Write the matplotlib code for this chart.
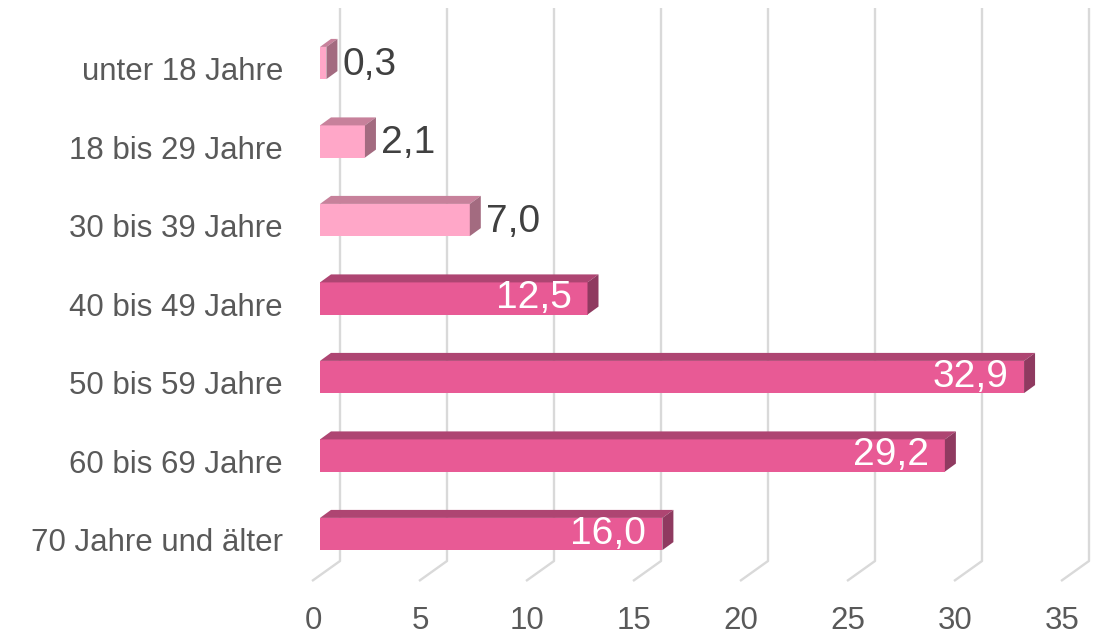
import matplotlib
matplotlib.use("Agg")
import matplotlib.pyplot as plt
from matplotlib.patches import Polygon

categories = ["unter 18 Jahre", "18 bis 29 Jahre", "30 bis 39 Jahre", "40 bis 49 Jahre",
              "50 bis 59 Jahre", "60 bis 69 Jahre", "70 Jahre und älter"]
values = [0.3, 2.1, 7.0, 12.5, 32.9, 29.2, 16.0]
value_labels = ["0,3", "2,1", "7,0", "12,5", "32,9", "29,2", "16,0"]
highlight = [False, False, False, True, True, True, True]
xticks = [0, 5, 10, 15, 20, 25, 30, 35]

plt.rcParams['font.family'] = ['Liberation Sans', 'DejaVu Sans']

W, H = 1099, 638
fig = plt.figure(figsize=(W / 100, H / 100), dpi=100)
ax = fig.add_axes([0, 0, 1, 1])
ax.set_axis_off()

# pixel mapping: x0 at 320 px, 21.4 px per unit; category i front centre at 63 + 78.5*i px
pxu = 21.4
pcat = 78.5
ax.set_xlim(-320 / pxu, (W - 320) / pxu)
ax.set_ylim((H - 63) / pcat, -63 / pcat)

light = dict(front="#FFA7C8", top="#C7819B", side="#A36B80")
dark = dict(front="#E85A95", top="#AE4572", side="#8F3A60")

# grid on back wall + floor diagonals
back_dx = 20 / pxu
floor_dx = -8 / pxu
y_top = (8 - 63) / pcat
y_back_bottom = (561 - 63) / pcat
y_front_floor = (581 - 63) / pcat
for t in xticks:
    ax.plot([t + back_dx, t + back_dx, t + floor_dx],
            [y_top, y_back_bottom, y_front_floor],
            color="#D9D9D9", lw=1.7, zorder=0, solid_capstyle="butt")
    ax.text(t - 7 / pxu, (621 - 63) / pcat, str(t), ha="center", va="center",
            fontsize=22.5, color="#595959")

bar_h = 0.41
ddx = 11 / pxu
ddy = 8 / pcat
ys = list(range(len(values)))
for i, (v, hl) in enumerate(zip(values, highlight)):
    c = dark if hl else light
    ax.barh(ys[i], v, height=bar_h, color=c["front"], edgecolor="none", zorder=2)
    yt = ys[i] - bar_h / 2
    yb = ys[i] + bar_h / 2
    top = Polygon([(0, yt), (v, yt), (v + ddx, yt - ddy), (ddx, yt - ddy)],
                  closed=True, facecolor=c["top"], edgecolor="none", zorder=2)
    side = Polygon([(v, yt), (v + ddx, yt - ddy), (v + ddx, yb - ddy), (v, yb)],
                   closed=True, facecolor=c["side"], edgecolor="none", zorder=2)
    ax.add_patch(top)
    ax.add_patch(side)
    if hl:
        ax.text(v - 0.75, ys[i], value_labels[i], ha="right", va="center",
                fontsize=28, color="white", zorder=3)
    else:
        ax.text(v + ddx + 0.25, ys[i] + 0.02, value_labels[i], ha="left", va="center",
                fontsize=28, color="#404040", zorder=3)

for i, cat in enumerate(categories):
    ax.text((283 - 320) / pxu, ys[i] + 0.115, cat, ha="right", va="center",
            fontsize=22.5, color="#595959")

fig.savefig("out.png", dpi=100)
